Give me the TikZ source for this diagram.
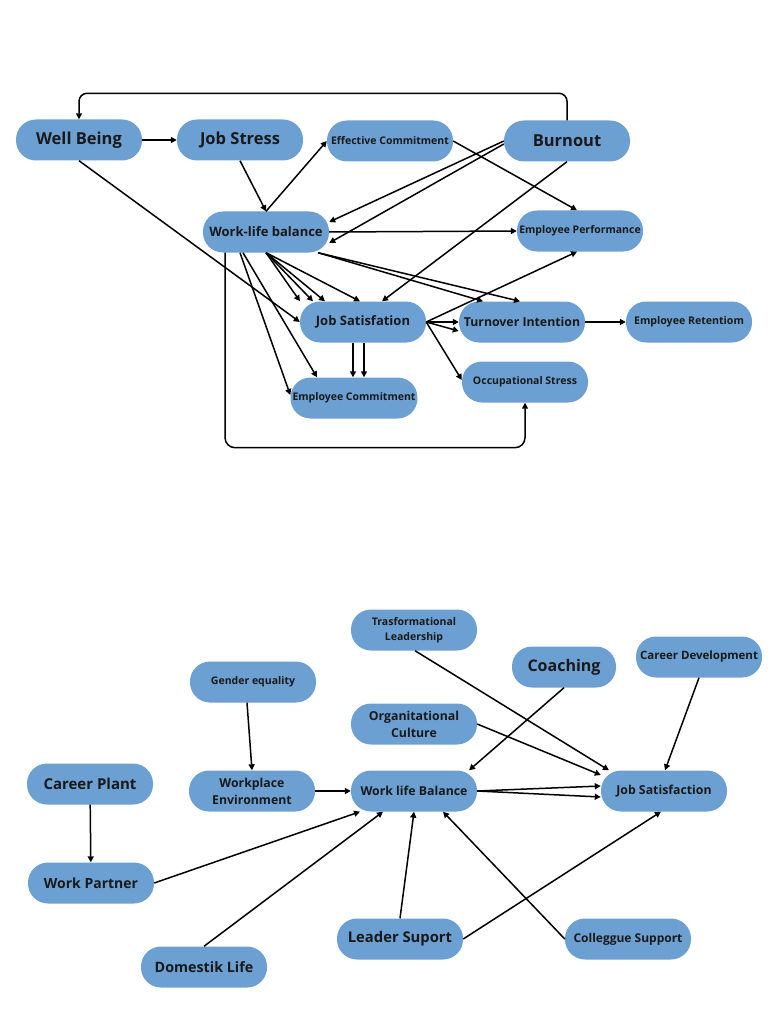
\documentclass[tikz,border=0pt]{standalone}
\usepackage{fontspec}
\setmainfont{Open Sans}
\usetikzlibrary{arrows.meta}
\definecolor{boxblue}{RGB}{108,160,210}
\tikzset{
    box/.style={fill=boxblue, rounded corners=20pt, minimum width=126pt, minimum height=41pt,
        inner sep=2pt, align=center, text=black!90},
    fs/.style={font=\fontsize{#1}{17}\selectfont\bfseries},
    arr/.style={-{Triangle[length=6pt,width=6pt]}, line width=1.5pt, line join=round},
}

\begin{document}
\begin{tikzpicture}[x=1pt,y=-1pt]
\useasboundingbox (0,0) rectangle (768,1024);

    %top graph
    \node[box,fs=16.5] (wellbeing) at (79,140) {Well Being};
    \node[box,fs=16.5] (jobstress) at (240,140) {Job Stress};
    \node[box,fs=10.5] (effcom) at (390,141) {Effective Commitment};
    \node[box,fs=16.5] (burnout) at (567,141) {Burnout};
    \node[box,fs=13] (wlb) at (266,232) {Work-life balance};
    \node[box,fs=10.5] (empperf) at (580,231) {Employee Performance};
    \node[box,fs=13] (jobsat) at (363,322) {Job Satisfation};
    \node[box,fs=12.3] (turnover) at (522,322) {Turnover Intention};
    \node[box,fs=10.6] (retention) at (689,322) {Employee Retentiom};
    \node[box,fs=10.5] (occstress) at (525,382) {Occupational Stress};
    \node[box,fs=10.5] (empcom) at (354,398) {Employee Commitment};

    \draw[arr] (wellbeing) -- (jobstress);
    \draw[arr] (jobstress.south) -- (wlb.north);
    \draw[arr] (wlb.north) -- (effcom.west);
    \draw[arr, rounded corners=8pt] (burnout.north) |- ([yshift=26pt]wellbeing.north) -- (wellbeing.north);
    \draw[arr] (wellbeing.south) -- (jobsat.west);
    \draw[arr] (burnout.west) -- ([yshift=10pt]wlb.east);
    \draw[arr] ([yshift=-3pt]burnout.west) -- ([yshift=-11pt]wlb.east);
    \draw[arr] (effcom.east) -- ([xshift=-3pt]empperf.north);
    \draw[arr] (burnout.south) -- ([xshift=19pt]jobsat.north);
    \draw[arr] (wlb.east) -- (empperf.west);
    \foreach \d in {-63,-50,-38,-3}
        \draw[arr] (wlb.south) -- ([xshift=\d pt]jobsat.north);
    \foreach \d in {-39,-2}
        \draw[arr] ([xshift=52pt]wlb.south) -- ([xshift=\d pt]turnover.north);
    \draw[arr] (jobsat.east) -- ([xshift=-3pt]empperf.south);
    \foreach \d in {0,-9}
        \draw[arr] (jobsat.east) -- ([yshift=\d pt]turnover.west);
    \draw[arr] (jobsat.east) -- ([yshift=2pt]occstress.west);
    \draw[arr] (turnover) -- (retention);
    \foreach \d in {-10,1}
        \draw[arr] ([xshift=\d pt]jobsat.south) -- ([xshift=\d pt]jobsat.south |- empcom.north);
    \draw[arr] ([xshift=-26pt]wlb.south) -- ([yshift=3pt]empcom.west);
    \draw[arr] ([xshift=-23pt]wlb.south) -- ([xshift=-37pt]empcom.north);
    \draw[arr, rounded corners=10pt] ([xshift=-41pt]wlb.south) |- ([yshift=-45pt]occstress.south) -- (occstress.south);

    %bottom graph
    \node[box,font=\fontsize{10.5}{15}\selectfont\bfseries] (transf) at (414,630) {Trasformational\\Leadership};
    \node[box,fs=16,minimum width=104pt] (coaching) at (564,667) {Coaching};
    \node[box,fs=11.5] (careerdev) at (699,657) {Career Development};
    \node[box,fs=12.3] (orgcult) at (414,724) {Organitational\\Culture};
    \node[box,fs=10.5] (gender) at (253,682) {Gender equality};
    \node[box,fs=12.3] (workplace) at (252,791) {Workplace\\Environment};
    \node[box,fs=12.3] (wlbal) at (414,791) {Work life Balance};
    \node[box,fs=12.3] (jobsatb) at (664,791) {Job Satisfaction};
    \node[box,fs=15] (careerplant) at (90,784) {Career Plant};
    \node[box,fs=14] (partner) at (91,883) {Work Partner};
    \node[box,fs=14.3] (domestic) at (204,967) {Domestik Life};
    \node[box,fs=14.8] (leader) at (400,939) {Leader Suport};
    \node[box,fs=12] (colleague) at (628,939) {Colleggue Support};

    \draw[arr] ([xshift=-6pt]gender.south) -- (workplace.north);
    \draw[arr] (workplace) -- (wlbal);
    \draw[arr] (careerplant) -- (partner);
    \draw[arr] (partner.east) -- ([xshift=-54pt]wlbal.south);
    \draw[arr] (domestic.north) -- ([xshift=-31pt]wlbal.south);
    \draw[arr] (leader.north) -- (wlbal.south);
    \draw[arr] (colleague.west) -- ([xshift=29pt]wlbal.south);
    \draw[arr] (leader.east) -- ([xshift=-3pt]jobsatb.south);
    \foreach \d in {5,-6}
        \draw[arr] (wlbal.east) -- ([yshift=\d pt]jobsatb.west);
    \draw[arr] ([xshift=1pt]transf.south) -- ([xshift=-55pt]jobsatb.north);
    \draw[arr] (orgcult.east) -- ([yshift=16pt]jobsatb.west);
    \draw[arr] (coaching.south) -- ([xshift=55pt]wlbal.north);
    \draw[arr] (careerdev.south) -- ([xshift=1pt]jobsatb.north);

\end{tikzpicture}
\end{document}
